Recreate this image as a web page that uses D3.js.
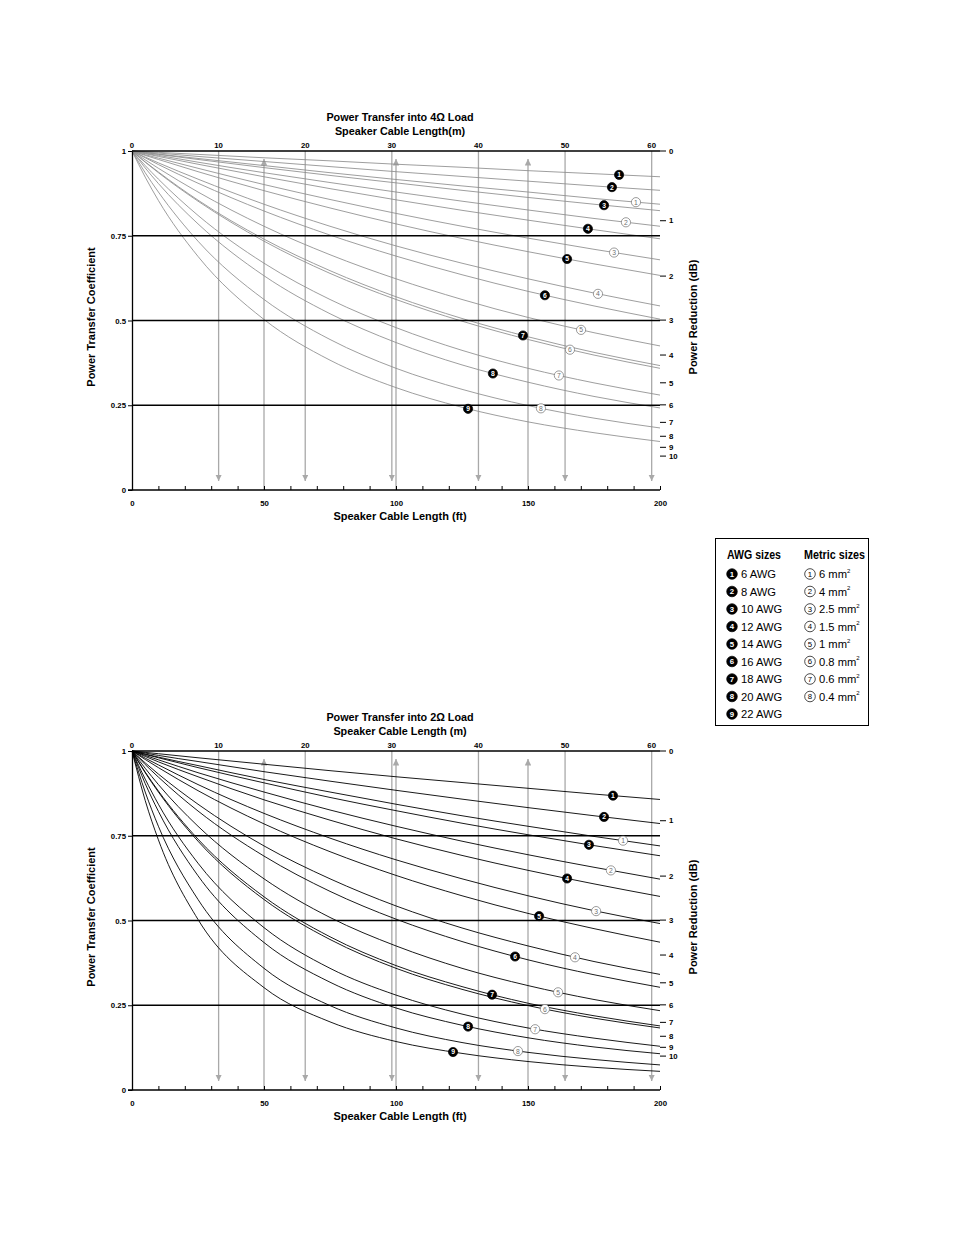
<!DOCTYPE html>
<html>
<head>
<meta charset="utf-8">
<script src="https://cdn.jsdelivr.net/npm/d3@7"></script>
<style>
  body { margin: 0; background: #fff; }
  text { font-family: "Liberation Sans", Arial, sans-serif; }
</style>
</head>
<body>
<svg id="chart"></svg>
<script>
// cable lengths (ft) at which the curves were read
const lengthsFt = [0, 5, 10, 25, 50, 75, 100, 125, 150, 175, 200];

const awgNames    = ['6 AWG', '8 AWG', '10 AWG', '12 AWG', '14 AWG', '16 AWG', '18 AWG', '20 AWG', '22 AWG'];
const metricSizes = ['6', '4', '2.5', '1.5', '1', '0.8', '0.6', '0.4'];

// power transfer coefficient, 4 ohm load
const awg4 = [
	[1, .998, .996, .990, .980, .971, .961, .952, .942, .933, .924],
	[1, .997, .994, .984, .969, .954, .939, .925, .911, .897, .884],
	[1, .995, .990, .975, .951, .928, .906, .884, .863, .843, .824],
	[1, .992, .984, .961, .924, .889, .856, .825, .796, .768, .741],
	[1, .987, .975, .939, .883, .832, .785, .742, .703, .667, .633],
	[1, .980, .960, .905, .823, .752, .690, .635, .586, .543, .504],
	[1, .968, .938, .855, .740, .647, .570, .506, .452, .406, .367],
	[1, .950, .904, .785, .632, .520, .435, .369, .318, .276, .242],
	[1, .923, .854, .689, .503, .383, .302, .244, .201, .169, .143]
];
const metric4 = [
	[1, .996, .991, .978, .957, .936, .916, .897, .879, .860, .843],
	[1, .993, .987, .967, .936, .907, .879, .852, .826, .801, .778],
	[1, .989, .979, .949, .901, .857, .816, .778, .743, .710, .679],
	[1, .982, .965, .917, .843, .778, .720, .669, .623, .581, .543],
	[1, .974, .949, .879, .778, .694, .623, .562, .509, .464, .425],
	[1, .967, .936, .852, .734, .639, .562, .498, .444, .398, .359],
	[1, .957, .917, .810, .669, .562, .479, .412, .359, .316, .280],
	[1, .936, .879, .734, .562, .444, .359, .297, .249, .212, .183]
];

// power transfer coefficient, 2 ohm load
const awg2 = [
	[1, .996, .992, .980, .961, .942, .924, .907, .890, .873, .857],
	[1, .994, .987, .969, .939, .911, .884, .858, .833, .809, .786],
	[1, .990, .980, .951, .906, .863, .824, .787, .753, .721, .691],
	[1, .984, .968, .924, .856, .796, .741, .692, .648, .608, .571],
	[1, .975, .951, .883, .785, .703, .633, .573, .521, .476, .436],
	[1, .960, .923, .823, .690, .586, .504, .438, .384, .340, .303],
	[1, .938, .882, .740, .570, .452, .367, .305, .256, .219, .189],
	[1, .904, .822, .632, .435, .318, .242, .191, .154, .127, .107],
	[1, .854, .738, .503, .302, .201, .143, .108, .084, .067, .055]
];
const metric2 = [
	[1, .991, .982, .957, .916, .879, .843, .809, .778, .748, .720],
	[1, .987, .974, .936, .879, .826, .778, .734, .694, .657, .622],
	[1, .979, .959, .901, .816, .743, .679, .623, .573, .529, .491],
	[1, .965, .932, .843, .720, .623, .543, .478, .425, .379, .341],
	[1, .949, .901, .778, .623, .509, .425, .359, .308, .267, .234],
	[1, .936, .879, .734, .562, .444, .359, .297, .249, .212, .183],
	[1, .917, .843, .669, .479, .359, .280, .224, .183, .153, .129],
	[1, .879, .778, .562, .359, .249, .183, .140, .111, .090, .074]
];

// where the size badges sit along each curve (ft)
const awgMark4    = [184.5, 181.8, 178.8, 172.7, 164.8, 156.4, 148.1, 136.7, 127.3];
const metricMark4 = [190.9, 187.1, 182.6, 176.5, 170.1, 165.9, 161.7, 154.9];
const awgMark2    = [182.2, 178.8, 173.1, 164.8, 154.2, 145.1, 136.4, 127.3, 121.6];
const metricMark2 = [186.0, 181.4, 175.8, 167.8, 161.4, 156.4, 152.7, 146.2];

const coefTicks  = [0, 0.25, 0.5, 0.75, 1];
const gridCoefs  = [0.25, 0.5, 0.75];
const dbTicks    = [0, 1, 2, 3, 4, 5, 6, 7, 8, 9, 10];
const ftTicks    = d3.range(0, 201, 10);
const ftLabels   = [0, 50, 100, 150, 200];
const mTicks     = [0, 10, 20, 30, 40, 50, 60];
const upArrowFt  = [50, 100, 150];
const downArrowM = [10, 20, 30, 40, 50, 60];

const FT_PER_M = 3.2808;
const TICK_FONT = 7.8;

let svg = d3.select('#chart')
	.attr('width', 954)
	.attr('height', 1235);

svg.append('defs').call((defs) => {
	defs.append('marker')
		.attr('id', 'head')
		.attr('viewBox', '0 0 10 10')
		.attr('refX', 10).attr('refY', 5)
		.attr('markerWidth', 5).attr('markerHeight', 5)
		.attr('orient', 'auto')
		.append('path')
			.attr('d', 'M0,0 L10,5 L0,10 Z')
			.attr('fill', '#a9a9a9');
});

let x = d3.scaleLinear().domain([0, 200]).range([132, 660]);

function yAtX(node, px) {
	let lo = 0, hi = node.getTotalLength();
	for (let i = 0; i < 32; i++) {
		let mid = (lo + hi) / 2;
		if (node.getPointAtLength(mid).x < px) lo = mid; else hi = mid;
	}
	return node.getPointAtLength(lo).y;
}

function badge(g, cx, cy, num, filled, r, fs, col) {
	g.append('circle')
		.attr('cx', cx).attr('cy', cy).attr('r', r)
		.attr('fill', filled ? '#000' : '#fff')
		.attr('stroke', filled ? '#000' : col)
		.attr('stroke-width', 0.7);
	g.append('text')
		.attr('x', cx).attr('y', cy)
		.attr('dy', '0.36em')
		.attr('text-anchor', 'middle')
		.attr('font-size', fs)
		.attr('font-weight', filled ? 'bold' : 'normal')
		.attr('fill', filled ? '#fff' : col)
		.text(num);
}

function drawPanel(top, opts) {
	let bottom = top + 339;
	let y = d3.scaleLinear().domain([0, 1]).range([bottom, top]);
	let g = svg.append('g');

	// titles
	g.append('text')
		.attr('x', 400).attr('y', top - 30)
		.attr('text-anchor', 'middle')
		.attr('font-size', 10.8).attr('font-weight', 'bold')
		.text(opts.title);
	g.append('text')
		.attr('x', 400).attr('y', top - 16)
		.attr('text-anchor', 'middle')
		.attr('font-size', 10.8).attr('font-weight', 'bold')
		.text(opts.subtitle);

	// gray guide arrows
	let arrows = g.append('g').attr('stroke', '#a9a9a9').attr('stroke-width', 1.3);
	downArrowM.forEach((m) => {
		arrows.append('line')
			.attr('x1', x(m * FT_PER_M)).attr('x2', x(m * FT_PER_M))
			.attr('y1', top).attr('y2', bottom - 9)
			.attr('marker-end', 'url(#head)');
	});
	upArrowFt.forEach((f) => {
		arrows.append('line')
			.attr('x1', x(f)).attr('x2', x(f))
			.attr('y1', bottom).attr('y2', top + 8)
			.attr('marker-end', 'url(#head)');
	});

	// curves
	let line = d3.line()
		.x((d, i) => x(lengthsFt[i]))
		.y((d) => y(d))
		.curve(d3.curveMonotoneX);

	let curveG = g.append('g')
		.attr('fill', 'none')
		.attr('stroke', opts.curveColor)
		.attr('stroke-width', opts.curveWidth);
	let awgPaths = opts.awg.map((vals) => curveG.append('path').attr('d', line(vals)).node());
	let metricPaths = opts.metric.map((vals) => curveG.append('path').attr('d', line(vals)).node());

	// black reference lines
	let frame = g.append('g').attr('stroke', '#000');
	gridCoefs.concat([1]).forEach((c) => {
		frame.append('line')
			.attr('x1', 132).attr('x2', 660)
			.attr('y1', y(c)).attr('y2', y(c))
			.attr('stroke-width', 1.3);
	});

	// left axis
	let left = g.append('g')
		.attr('transform', 'translate(132,0)')
		.call(d3.axisLeft(y).tickValues(coefTicks).tickSize(4).tickSizeOuter(0).tickPadding(2)
			.tickFormat((d) => String(d)));
	left.select('.domain').attr('stroke-width', 1.3);
	left.selectAll('text').attr('font-size', TICK_FONT).attr('font-weight', 'bold').attr('font-family', 'Liberation Sans, Arial, sans-serif');

	// bottom axis
	let bot = g.append('g')
		.attr('transform', 'translate(0,' + bottom + ')')
		.call(d3.axisBottom(x).tickValues(ftTicks).tickSizeInner(-4).tickSizeOuter(0).tickPadding(10)
			.tickFormat((d) => ftLabels.includes(d) ? d : ''));
	bot.select('.domain').attr('stroke-width', 1.3).attr('d', 'M128,0H660');
	bot.selectAll('text').attr('font-size', TICK_FONT).attr('font-weight', 'bold').attr('font-family', 'Liberation Sans, Arial, sans-serif');

	// top metric labels
	g.append('g').selectAll('text').data(mTicks).enter()
		.append('text')
			.attr('x', (m) => x(m * FT_PER_M))
			.attr('y', top - 3)
			.attr('text-anchor', 'middle')
			.attr('font-size', TICK_FONT).attr('font-weight', 'bold')
			.text((m) => m);

	// right dB scale
	let db = g.append('g');
	dbTicks.forEach((d) => {
		let yy = y(Math.pow(10, -d / 10));
		db.append('line')
			.attr('x1', 660).attr('x2', 666)
			.attr('y1', yy).attr('y2', yy)
			.attr('stroke', '#000').attr('stroke-width', 1);
		db.append('text')
			.attr('x', 669).attr('y', yy)
			.attr('dy', '0.35em')
			.attr('font-size', TICK_FONT).attr('font-weight', 'bold')
			.text(d);
	});

	// axis titles
	g.append('text')
		.attr('x', 400).attr('y', bottom + 30)
		.attr('text-anchor', 'middle')
		.attr('font-size', 11).attr('font-weight', 'bold')
		.text('Speaker Cable Length (ft)');
	g.append('text')
		.attr('transform', 'translate(95,' + (top + 166) + ') rotate(-90)')
		.attr('text-anchor', 'middle')
		.attr('font-size', 11).attr('font-weight', 'bold')
		.text('Power Transfer Coefficient');
	g.append('text')
		.attr('transform', 'translate(697,' + (top + 166) + ') rotate(-90)')
		.attr('text-anchor', 'middle')
		.attr('font-size', 11).attr('font-weight', 'bold')
		.text('Power Reduction (dB)');

	// badges
	let badges = g.append('g');
	opts.awgMarks.forEach((f, i) => {
		let px = x(f);
		badge(badges, px, yAtX(awgPaths[i], px), i + 1, true, 4.6, 6.8, '#000');
	});
	opts.metricMarks.forEach((f, i) => {
		let px = x(f);
		badge(badges, px, yAtX(metricPaths[i], px), i + 1, false, 4.6, 6.8, '#707070');
	});
}

drawPanel(151, {
	title: 'Power Transfer into 4\u03A9 Load',
	subtitle: 'Speaker Cable Length(m)',
	awg: awg4, metric: metric4,
	awgMarks: awgMark4, metricMarks: metricMark4,
	curveColor: '#8c8c8c', curveWidth: 0.85
});

drawPanel(751, {
	title: 'Power Transfer into 2\u03A9 Load',
	subtitle: 'Speaker Cable Length (m)',
	awg: awg2, metric: metric2,
	awgMarks: awgMark2, metricMarks: metricMark2,
	curveColor: '#000', curveWidth: 0.9
});

// legend
let legend = svg.append('g');
legend.append('rect')
	.attr('x', 715.5).attr('y', 538.5)
	.attr('width', 153).attr('height', 187)
	.attr('fill', '#fff').attr('stroke', '#000').attr('stroke-width', 1);

[['AWG sizes', 727, 54], ['Metric sizes', 804, 61]].forEach((h) => {
	legend.append('text')
		.attr('x', h[1]).attr('y', 559)
		.attr('font-size', 12.7).attr('font-weight', 'bold')
		.attr('textLength', h[2])
		.attr('lengthAdjust', 'spacingAndGlyphs')
		.text(h[0]);
});

awgNames.forEach((n, i) => {
	let cy = 574 + i * 17.5;
	badge(legend, 732, cy, i + 1, true, 5.3, 7.8, '#000');
	legend.append('text')
		.attr('x', 741).attr('y', cy)
		.attr('dy', '0.36em')
		.attr('font-size', 11.2)
		.text(n);
});
metricSizes.forEach((s, i) => {
	let cy = 574 + i * 17.5;
	badge(legend, 810, cy, i + 1, false, 5.3, 7.8, '#000');
	let t = legend.append('text')
		.attr('x', 819).attr('y', cy)
		.attr('dy', '0.36em')
		.attr('font-size', 11.2);
	t.append('tspan').text(s + ' mm');
	t.append('tspan').attr('font-size', 6).attr('dy', '-0.9em').text('2');
});
</script>
</body>
</html>
